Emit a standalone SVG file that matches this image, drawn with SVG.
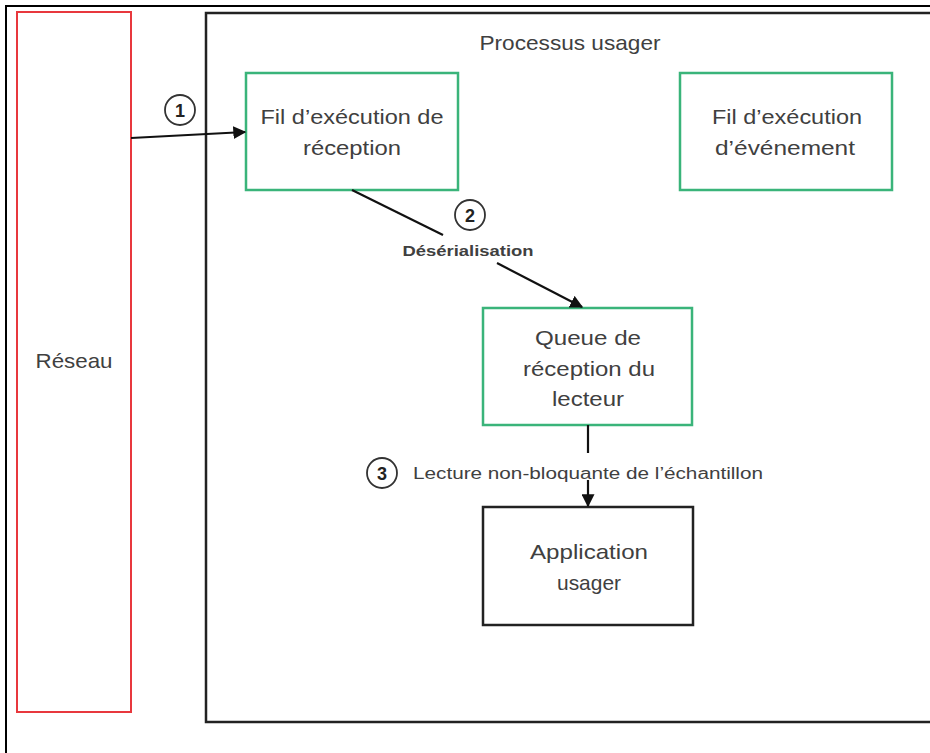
<svg xmlns="http://www.w3.org/2000/svg" width="930" height="753" viewBox="0 0 930 753">
<style>
.t{font-family:"Liberation Sans",Arial,sans-serif;fill:#404040;text-anchor:middle}
.node{font-size:21px}
.g{fill:#fff;stroke:#3ab47a;stroke-width:2.5}
.k{fill:#fff;stroke:#222;stroke-width:2.5}
.c{fill:#fff;stroke:#333;stroke-width:1.8}
.ln{stroke:#111;stroke-width:2.2;fill:none}
.num{font-family:"Liberation Sans",Arial,sans-serif;font-weight:bold;font-size:18px;fill:#222;text-anchor:middle}
</style>
<defs>
<marker id="ah" viewBox="0 0 10 10" refX="9" refY="5" markerWidth="13" markerHeight="13" orient="auto" markerUnits="userSpaceOnUse">
<path d="M0,0 L10,5 L0,10 z" fill="#111"/>
</marker>
</defs>
<rect x="0" y="0" width="930" height="753" fill="#fff"/>
<rect x="6" y="6" width="940" height="770" fill="none" stroke="#000" stroke-width="2"/>
<g id="reseau">
<rect x="17" y="12" width="114" height="700" fill="#fff" stroke="#e8383d" stroke-width="2"/>
<text class="t node" x="74" y="368" textLength="77" lengthAdjust="spacingAndGlyphs">Réseau</text>
</g>
<g id="processus">
<rect x="206" y="13" width="740" height="709" fill="#fff" stroke="#222" stroke-width="2.5"/>
<text class="t node" x="570" y="50" textLength="181" lengthAdjust="spacingAndGlyphs">Processus usager</text>
</g>
<g id="fil-reception">
<rect class="g" x="246" y="73" width="212" height="117"/>
<text class="t node" x="352" y="124" textLength="183" lengthAdjust="spacingAndGlyphs">Fil d’exécution de</text>
<text class="t node" x="352" y="155" textLength="98" lengthAdjust="spacingAndGlyphs">réception</text>
</g>
<g id="fil-evenement">
<rect class="g" x="680" y="73" width="212" height="117"/>
<text class="t node" x="787" y="124" textLength="150" lengthAdjust="spacingAndGlyphs">Fil d’exécution</text>
<text class="t node" x="785" y="155" textLength="140" lengthAdjust="spacingAndGlyphs">d’événement</text>
</g>
<g id="queue">
<rect class="g" x="483" y="308" width="209" height="117"/>
<text class="t node" x="588" y="345" textLength="106" lengthAdjust="spacingAndGlyphs">Queue de</text>
<text class="t node" x="589" y="376" textLength="132" lengthAdjust="spacingAndGlyphs">réception du</text>
<text class="t node" x="588" y="406" textLength="72" lengthAdjust="spacingAndGlyphs">lecteur</text>
</g>
<g id="application">
<rect class="k" x="483" y="507" width="210" height="118"/>
<text class="t node" x="589" y="559" textLength="118" lengthAdjust="spacingAndGlyphs">Application</text>
<text class="t node" x="589" y="590" textLength="64" lengthAdjust="spacingAndGlyphs">usager</text>
</g>
<g id="connectors">
<line class="ln" x1="131" y1="138" x2="245" y2="132" marker-end="url(#ah)"/>
<circle class="c" cx="180" cy="110" r="15"/>
<text class="num" x="180" y="117">1</text>
<line class="ln" x1="352" y1="190" x2="443" y2="235"/>
<line class="ln" x1="497" y1="263" x2="582" y2="307" marker-end="url(#ah)"/>
<circle class="c" cx="470" cy="215" r="15"/>
<text class="num" x="470" y="222">2</text>
<text class="t" x="468" y="256" font-size="15" font-weight="bold" textLength="131" lengthAdjust="spacingAndGlyphs">Désérialisation</text>
<line class="ln" x1="588" y1="425" x2="588" y2="453"/>
<line class="ln" x1="588" y1="480" x2="588" y2="506" marker-end="url(#ah)"/>
<circle class="c" cx="382" cy="473" r="15"/>
<text class="num" x="382" y="480">3</text>
<text class="t" x="413" y="479" font-size="16" style="text-anchor:start" textLength="350" lengthAdjust="spacingAndGlyphs">Lecture non-bloquante de l’échantillon</text>
</g>
</svg>
